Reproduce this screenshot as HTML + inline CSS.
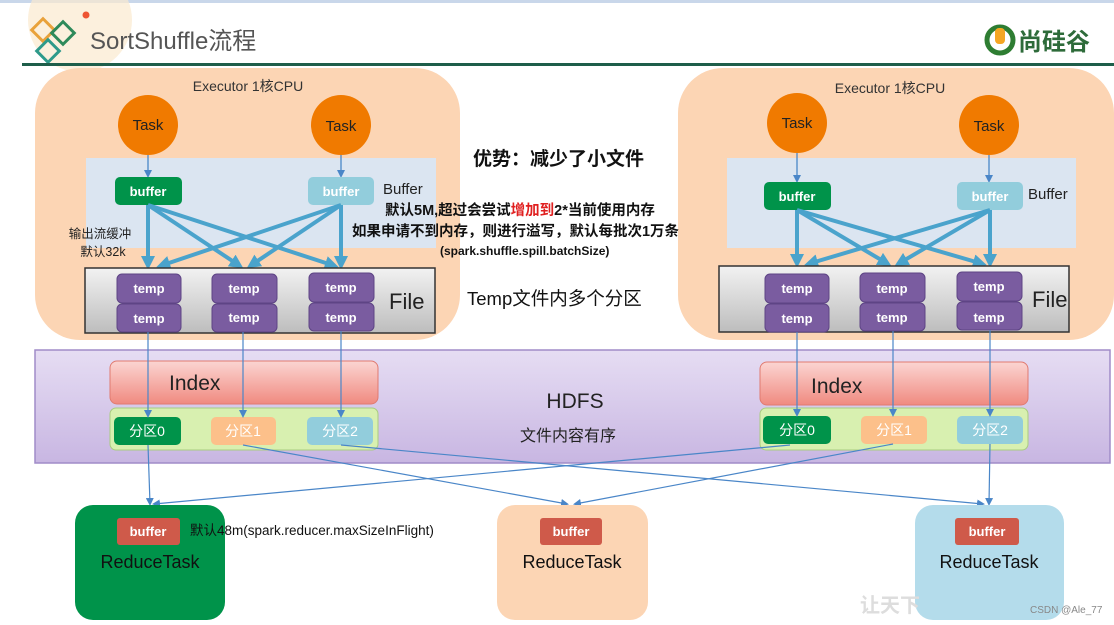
<!DOCTYPE html>
<html><head><meta charset="utf-8"><style>
body{margin:0;background:#fff;}
svg{display:block;font-family:"Liberation Sans","Noto Sans CJK SC",sans-serif;}
</style></head><body>
<svg width="1114" height="625" viewBox="0 0 1114 625" xmlns="http://www.w3.org/2000/svg">
<defs>
<linearGradient id="fg" x1="0" y1="0" x2="0" y2="1"><stop offset="0" stop-color="#f2f2f2"/><stop offset="1" stop-color="#bdbdbd"/></linearGradient>
<linearGradient id="ig" x1="0" y1="0" x2="0" y2="1"><stop offset="0" stop-color="#fbd5d2"/><stop offset="1" stop-color="#f08a80"/></linearGradient>
<linearGradient id="hg" x1="0" y1="0" x2="0" y2="1"><stop offset="0" stop-color="#e6ddf3"/><stop offset="1" stop-color="#c8b6e2"/></linearGradient>
<marker id="ab" markerWidth="8" markerHeight="8" refX="6" refY="4" orient="auto" markerUnits="userSpaceOnUse"><path d="M0,0 L8,4 L0,8 Z" fill="#4a86c8"/></marker>
<marker id="at" markerWidth="14" markerHeight="14" refX="10" refY="7" orient="auto" markerUnits="userSpaceOnUse"><path d="M0,0 L14,7 L0,14 Z" fill="#4aa3cc"/></marker>
</defs>
<rect x="0" y="0" width="1114" height="3" fill="#c9d7ea"/>
<circle cx="80" cy="20" r="52" fill="#fbe9cf" opacity="0.7"/>
<circle cx="86" cy="15" r="3.5" fill="#e53"/>
<g fill="none" stroke-width="3">
<rect x="35" y="22" width="16" height="16" transform="rotate(45 43 30)" stroke="#e9a23b"/>
<rect x="55" y="25" width="16" height="16" transform="rotate(45 63 33)" stroke="#2e8a5a"/>
<rect x="40" y="43" width="16" height="16" transform="rotate(45 48 51)" stroke="#2e9a8a"/>
</g>
<text x="90" y="49" font-size="24" fill="#555">SortShuffle流程</text>
<rect x="22" y="63" width="1092" height="3" fill="#1e5e4a"/>
<circle cx="1000" cy="40" r="13" fill="none" stroke="#2e7d32" stroke-width="5"/>
<rect x="995" y="28" width="10" height="16" rx="4" fill="#f5a623"/>
<text x="1018" y="50" font-size="24" font-weight="bold" fill="#2e6b3a">尚硅谷</text>

<rect x="35" y="68" width="425" height="272" rx="45" fill="#fcd5b4"/>
<rect x="678" y="68" width="436" height="272" rx="45" fill="#fcd5b4"/>
<text x="248" y="91" font-size="14" text-anchor="middle" fill="#333">Executor 1核CPU</text>
<text x="890" y="93" font-size="14" text-anchor="middle" fill="#333">Executor 1核CPU</text>
<rect x="86" y="158" width="350" height="90" fill="#dbe5f1"/>
<rect x="727" y="158" width="349" height="90" fill="#dbe5f1"/>

<g fill="#f07a00"><circle cx="148" cy="125" r="30"/><circle cx="341" cy="125" r="30"/><circle cx="797" cy="123" r="30"/><circle cx="989" cy="125" r="30"/></g>
<g font-size="15" text-anchor="middle" fill="#222"><text x="148" y="130">Task</text><text x="341" y="131">Task</text><text x="797" y="128">Task</text><text x="989" y="131">Task</text></g>
<g stroke="#4a86c8" stroke-width="1.3" marker-end="url(#ab)">
<line x1="148" y1="155" x2="148" y2="176"/><line x1="341" y1="155" x2="341" y2="176"/>
<line x1="797" y1="153" x2="797" y2="181"/><line x1="989" y1="155" x2="989" y2="181"/></g>

<rect x="115" y="177" width="67" height="28" rx="5" fill="#00934a"/>
<rect x="308" y="177" width="66" height="28" rx="5" fill="#92cddc"/>
<rect x="764" y="182" width="67" height="28" rx="5" fill="#00934a"/>
<rect x="957" y="182" width="66" height="28" rx="5" fill="#92cddc"/>
<g font-size="13" font-weight="bold" text-anchor="middle" fill="#fff"><text x="148" y="196">buffer</text><text x="341" y="196">buffer</text><text x="797" y="201">buffer</text><text x="990" y="201">buffer</text></g>
<text x="383" y="194" font-size="15" fill="#222">Buffer</text>
<text x="1028" y="199" font-size="15" fill="#222">Buffer</text>

<g stroke="#4aa3cc" stroke-width="4" marker-end="url(#at)" fill="none">
<line x1="148" y1="205" x2="148" y2="266"/><line x1="148" y1="205" x2="240" y2="266"/><line x1="148" y1="205" x2="335" y2="266"/>
<line x1="341" y1="205" x2="160" y2="266"/><line x1="341" y1="205" x2="250" y2="266"/><line x1="341" y1="205" x2="341" y2="266"/>
<line x1="797" y1="210" x2="797" y2="264"/><line x1="797" y1="210" x2="888" y2="264"/><line x1="797" y1="210" x2="983" y2="264"/>
<line x1="990" y1="210" x2="808" y2="264"/><line x1="990" y1="210" x2="898" y2="264"/><line x1="990" y1="210" x2="990" y2="264"/>
</g>
<text x="100" y="238" font-size="12.5" text-anchor="middle" fill="#222">输出流缓冲</text>
<text x="103" y="256" font-size="12.5" text-anchor="middle" fill="#222">默认32k</text>

<rect x="85" y="268" width="350" height="65" fill="url(#fg)" stroke="#333" stroke-width="1.5"/>
<rect x="719" y="266" width="350" height="66" fill="url(#fg)" stroke="#333" stroke-width="1.5"/>
<g fill="#7a5ca0" stroke="#5e4485" stroke-width="1">
<rect x="117" y="274" width="64" height="29" rx="5"/><rect x="117" y="304" width="64" height="28" rx="5"/>
<rect x="212" y="274" width="65" height="29" rx="5"/><rect x="212" y="304" width="65" height="28" rx="5"/>
<rect x="309" y="273" width="65" height="29" rx="5"/><rect x="309" y="303" width="65" height="28" rx="5"/>
<rect x="765" y="274" width="64" height="29" rx="5"/><rect x="765" y="304" width="64" height="28" rx="5"/>
<rect x="860" y="273" width="65" height="29" rx="5"/><rect x="860" y="303" width="65" height="28" rx="5"/>
<rect x="957" y="272" width="65" height="29" rx="5"/><rect x="957" y="302" width="65" height="28" rx="5"/>
</g>
<g font-size="13" font-weight="bold" text-anchor="middle" fill="#fff">
<text x="149" y="293">temp</text><text x="149" y="323">temp</text><text x="244" y="293">temp</text><text x="244" y="322">temp</text><text x="341" y="292">temp</text><text x="341" y="322">temp</text>
<text x="797" y="293">temp</text><text x="797" y="323">temp</text><text x="892" y="293">temp</text><text x="892" y="322">temp</text><text x="989" y="291">temp</text><text x="989" y="322">temp</text></g>
<text x="389" y="309" font-size="22" fill="#222">File</text>
<text x="1032" y="307" font-size="22" fill="#222">File</text>

<text x="473" y="165" font-size="19" font-weight="bold" fill="#111">优势：减少了小文件</text>
<text x="385" y="215" font-size="14.5" font-weight="bold" fill="#111">默认5M,超过会尝试<tspan fill="#e02020">增加到</tspan>2*当前使用内存</text>
<text x="352" y="236" font-size="14.5" font-weight="bold" fill="#111">如果申请不到内存，则进行溢写，默认每批次1万条</text>
<text x="440" y="255" font-size="12" font-weight="bold" fill="#111">(spark.shuffle.spill.batchSize)</text>
<text x="467" y="305" font-size="18.5" fill="#111">Temp文件内多个分区</text>

<rect x="35" y="350" width="1075" height="113" fill="url(#hg)" stroke="#a08cc8" stroke-width="1.5"/>
<rect x="110" y="361" width="268" height="43" rx="7" fill="url(#ig)" stroke="#e07a70"/>
<rect x="760" y="362" width="268" height="43" rx="7" fill="url(#ig)" stroke="#e07a70"/>
<text x="169" y="390" font-size="21" fill="#222">Index</text>
<text x="811" y="393" font-size="21" fill="#222">Index</text>
<rect x="110" y="408" width="268" height="42" rx="6" fill="#d8f0b0" stroke="#a8cc80"/>
<rect x="760" y="408" width="268" height="42" rx="6" fill="#d8f0b0" stroke="#a8cc80"/>
<rect x="114" y="417" width="67" height="28" rx="5" fill="#00934a"/>
<rect x="211" y="417" width="65" height="28" rx="5" fill="#fcc08a"/>
<rect x="307" y="417" width="66" height="28" rx="5" fill="#92cddc"/>
<rect x="763" y="416" width="68" height="28" rx="5" fill="#00934a"/>
<rect x="861" y="416" width="66" height="28" rx="5" fill="#fcc08a"/>
<rect x="957" y="416" width="66" height="28" rx="5" fill="#92cddc"/>
<g font-size="14" text-anchor="middle" fill="#fff"><text x="147" y="436">分区0</text><text x="243" y="436">分区1</text><text x="340" y="436">分区2</text><text x="797" y="435">分区0</text><text x="894" y="435">分区1</text><text x="990" y="435">分区2</text></g>
<text x="575" y="408" font-size="21" text-anchor="middle" fill="#222">HDFS</text>
<text x="568" y="441" font-size="16" text-anchor="middle" fill="#222">文件内容有序</text>

<g stroke="#4a86c8" stroke-width="1.2" fill="none">
<line x1="148" y1="332" x2="148" y2="416" marker-end="url(#ab)"/><line x1="243" y1="332" x2="243" y2="416" marker-end="url(#ab)"/><line x1="341" y1="331" x2="341" y2="416" marker-end="url(#ab)"/>
<line x1="797" y1="332" x2="797" y2="415" marker-end="url(#ab)"/><line x1="893" y1="331" x2="893" y2="415" marker-end="url(#ab)"/><line x1="990" y1="330" x2="990" y2="415" marker-end="url(#ab)"/>
<line x1="148" y1="445" x2="150" y2="504" marker-end="url(#ab)"/>
<line x1="243" y1="445" x2="567" y2="504" marker-end="url(#ab)"/>
<line x1="341" y1="445" x2="983" y2="504" marker-end="url(#ab)"/>
<line x1="790" y1="445" x2="154" y2="504" marker-end="url(#ab)"/>
<line x1="893" y1="444" x2="575" y2="504" marker-end="url(#ab)"/>
<line x1="990" y1="444" x2="989" y2="504" marker-end="url(#ab)"/>
</g>

<rect x="75" y="505" width="150" height="115" rx="18" fill="#00934a"/>
<rect x="497" y="505" width="151" height="115" rx="18" fill="#fcd5b4"/>
<rect x="915" y="505" width="149" height="115" rx="18" fill="#b4dceb"/>
<rect x="117" y="518" width="63" height="27" rx="3" fill="#cf5a4a"/>
<rect x="540" y="518" width="62" height="27" rx="3" fill="#cf5a4a"/>
<rect x="955" y="518" width="64" height="27" rx="3" fill="#cf5a4a"/>
<g font-size="13" font-weight="bold" text-anchor="middle" fill="#fff"><text x="148" y="536">buffer</text><text x="571" y="536">buffer</text><text x="987" y="536">buffer</text></g>
<g font-size="18" text-anchor="middle" fill="#111"><text x="150" y="568">ReduceTask</text><text x="572" y="568">ReduceTask</text><text x="989" y="568">ReduceTask</text></g>
<text x="190" y="535" font-size="13.5" fill="#111">默认48m(spark.reducer.maxSizeInFlight)</text>
<text x="860" y="612" font-size="20" fill="#ddd" font-weight="bold">让天下</text>
<text x="1030" y="613" font-size="10" fill="#888">CSDN @Ale_77</text>
</svg>
</body></html>
